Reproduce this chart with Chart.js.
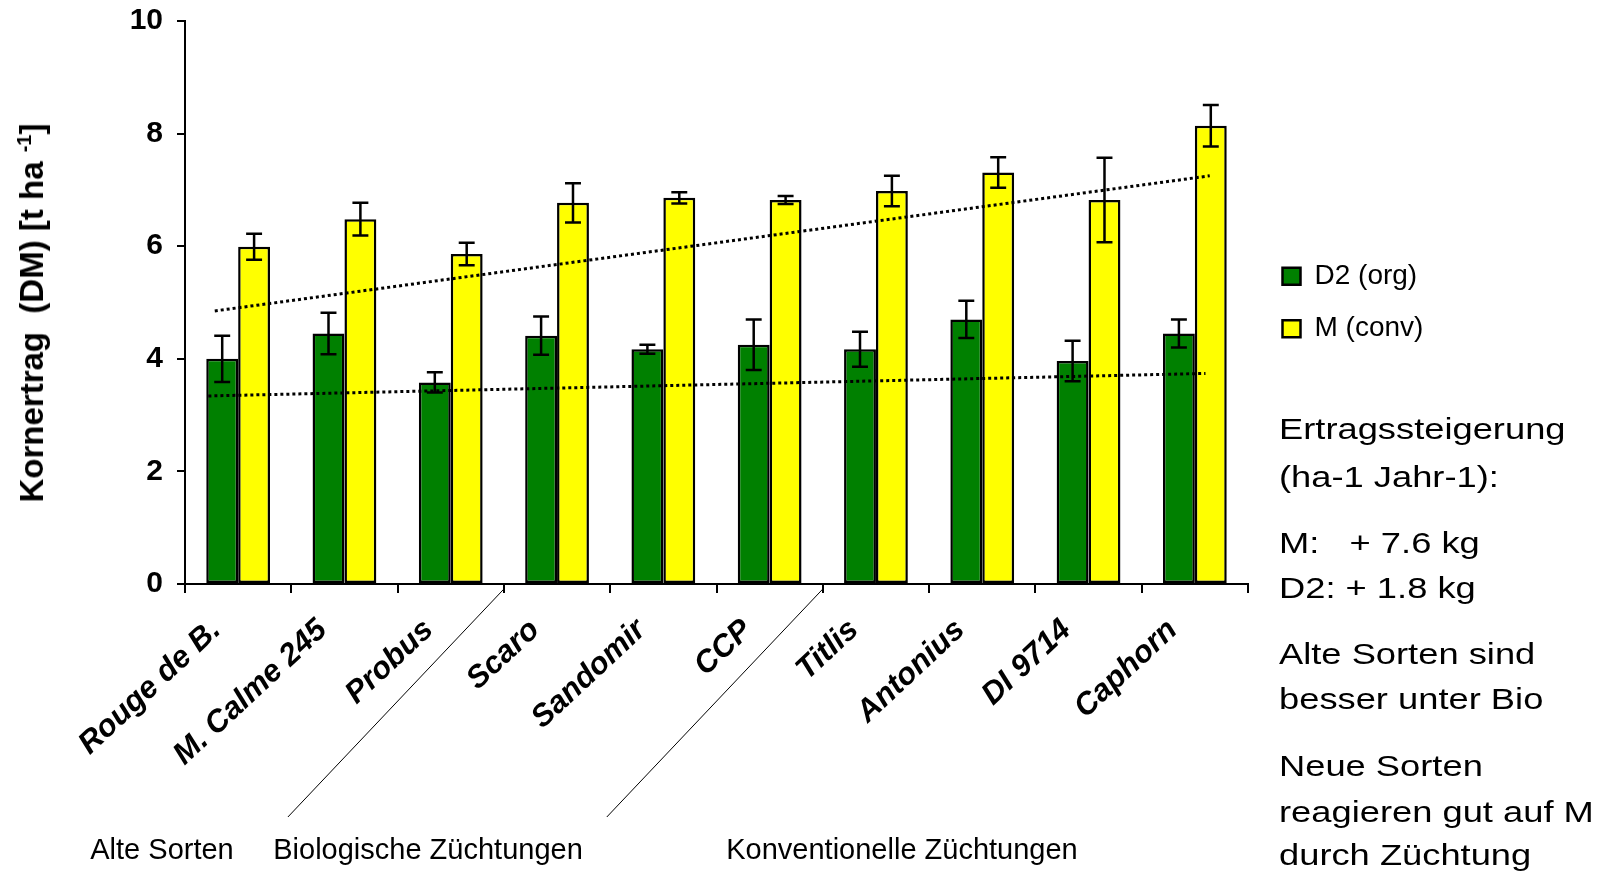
<!DOCTYPE html>
<html>
<head>
<meta charset="utf-8">
<script src="https://cdn.jsdelivr.net/npm/chart.js@4.4.1/dist/chart.umd.min.js"></script>
<style>
  html, body { margin: 0; padding: 0; background: #fff; }
  #wrap { position: relative; width: 1615px; height: 873px; overflow: hidden;
          font-family: "Liberation Sans", Arial, sans-serif; color: #000; }
  #chart { position: absolute; left: 0; top: 0; }
  .ytitle { position: absolute; left: 31px; top: 313px; white-space: pre;
            transform: translate(-50%, -50%) rotate(-90deg);
            font-weight: bold; font-size: 33px; line-height: 1; }
  .ytitle sup { font-size: 20px; }
  .group { position: absolute; top: 849px; transform: translate(-50%, -50%);
           font-size: 29px; white-space: nowrap; line-height: 1; }
  .note { position: absolute; left: 1279px; font-size: 30px; line-height: 1;
          white-space: pre; transform-origin: left center;
          transform: translateY(-50%) scaleX(1.21); }
</style>
</head>
<body>
<div id="wrap">
  <canvas id="chart" width="1615" height="873"></canvas>
  <div class="ytitle">Kornertrag  (DM) [t ha <sup>-1</sup>]</div>
  <div class="group" style="left:162px">Alte Sorten</div>
  <div class="group" style="left:428px">Biologische Züchtungen</div>
  <div class="group" style="left:902px">Konventionelle Züchtungen</div>
  <div class="note" style="top:429px">Ertragssteigerung</div>
  <div class="note" style="top:477px">(ha-1 Jahr-1):</div>
  <div class="note" style="top:543px">M:   + 7.6 kg</div>
  <div class="note" style="top:588px">D2: + 1.8 kg</div>
  <div class="note" style="top:654px">Alte Sorten sind</div>
  <div class="note" style="top:699px">besser unter Bio</div>
  <div class="note" style="top:766px">Neue Sorten</div>
  <div class="note" style="top:812px">reagieren gut auf M</div>
  <div class="note" style="top:855px">durch Züchtung</div>
</div>
<script>
// Sorten (x-Achse)
const sorten = ["Rouge de B.", "M. Calme 245", "Probus", "Scaro", "Sandomir",
                "CCP", "Titlis", "Antonius", "DI 9714", "Caphorn"];

// Kornertrag [t/ha] und Fehlerbalken
const d2Werte  = [4.00, 4.45, 3.58, 4.41, 4.17, 4.25, 4.17, 4.70, 3.96, 4.45];
const d2Fehler = [0.41, 0.37, 0.18, 0.34, 0.08, 0.45, 0.31, 0.33, 0.36, 0.25];
const mWerte   = [5.99, 6.48, 5.86, 6.77, 6.86, 6.82, 6.98, 7.31, 6.82, 8.14];
const mFehler  = [0.23, 0.29, 0.20, 0.35, 0.10, 0.07, 0.27, 0.27, 0.75, 0.37];

// Trendlinien (Endpunkte, x als Kategorie-Index)
const mTrendX  = [-0.22, 9.14];
const mTrendY  = [4.85, 7.25];
const d2TrendX = [-0.28, 9.10];
const d2TrendY = [3.34, 3.74];

// Trennlinien zwischen den Gruppen (vor Index)
const gruppenGrenzen = [3, 6];

const yTicks = { min: 0, max: 10, step: 2 };

Chart.defaults.font.family = "'Liberation Sans', Arial, sans-serif";
Chart.defaults.color = "#000";

// Fehlerbalken selbst zeichnen
const errorBars = {
  id: "errorBars",
  afterDatasetsDraw(chart) {
    const ctx = chart.ctx;
    const y = chart.scales.y;
    ctx.save();
    ctx.strokeStyle = "#000";
    ctx.lineWidth = 2.5;
    chart.data.datasets.forEach((ds, di) => {
      if (!ds.errors) return;
      const meta = chart.getDatasetMeta(di);
      meta.data.forEach((bar, i) => {
        const v = ds.data[i], e = ds.errors[i];
        const top = y.getPixelForValue(v + e);
        const bot = y.getPixelForValue(v - e);
        const half = bar.width / 4;
        ctx.beginPath();
        ctx.moveTo(bar.x, top); ctx.lineTo(bar.x, bot);
        ctx.moveTo(bar.x - half, top); ctx.lineTo(bar.x + half, top);
        ctx.moveTo(bar.x - half, bot); ctx.lineTo(bar.x + half, bot);
        ctx.stroke();
      });
    });
    ctx.restore();
  }
};

// schräge Linien unter der Achse
const groupLines = {
  id: "groupLines",
  afterDraw(chart) {
    const x = chart.scales.x;
    const ctx = chart.ctx;
    ctx.save();
    ctx.strokeStyle = "#000";
    ctx.lineWidth = 1;
    gruppenGrenzen.forEach(i => {
      const px = (x.getPixelForValue(i - 1) + x.getPixelForValue(i)) / 2;
      ctx.beginPath();
      ctx.moveTo(px, x.top + 5);
      ctx.lineTo(px - 216, 817);
      ctx.stroke();
    });
    ctx.restore();
  }
};

// Legende: feste Breite, etwas nach rechts
const legendPlace = {
  id: "legendPlace",
  beforeLayout(chart) {
    const lg = chart.legend;
    if (lg && !lg._patched) {
      const fit = lg.fit;
      lg.fit = function () { fit.call(this); this.width = 367; };
      lg._patched = true;
    }
  },
  afterLayout(chart) {
    chart.legend.left += 10;
  }
};

function trendSet(label, xs, ys) {
  return {
    type: "line",
    label: label,
    data: xs.map((x, i) => ({ x: x, y: ys[i] })),
    parsing: false,
    grouped: false,
    borderColor: "#000",
    borderWidth: 3,
    borderDash: [3, 3],
    pointRadius: 0,
    fill: false,
    order: 0
  };
}

new Chart(document.getElementById("chart"), {
  type: "bar",
  data: {
    labels: sorten,
    datasets: [
      {
        label: "D2 (org)",
        data: d2Werte,
        errors: d2Fehler,
        backgroundColor: "#008000",
        borderColor: "#000",
        borderWidth: 2.5,
        borderSkipped: false,
        categoryPercentage: 0.6,
        barPercentage: 1.0,
        order: 1
      },
      {
        label: "M (conv)",
        data: mWerte,
        errors: mFehler,
        backgroundColor: "#ffff00",
        borderColor: "#000",
        borderWidth: 2.5,
        borderSkipped: false,
        categoryPercentage: 0.6,
        barPercentage: 1.0,
        order: 1
      },
      trendSet("Trend M", mTrendX, mTrendY),
      trendSet("Trend D2", d2TrendX, d2TrendY)
    ]
  },
  options: {
    responsive: false,
    animation: false,
    devicePixelRatio: 1,
    layout: { padding: { top: 21, right: 0, bottom: 0, left: 0 } },
    plugins: {
      tooltip: { enabled: false },
      legend: {
        position: "right",
        align: "center",
        fullSize: false,
        labels: {
          boxWidth: 18,
          boxHeight: 17,
          padding: 24.5,
          font: { size: 28 },
          color: "#000",
          filter: item => item.datasetIndex < 2
        }
      }
    },
    scales: {
      x: {
        type: "category",
        offset: true,
        grid: { offset: true, drawOnChartArea: false, tickLength: 9, color: "#000", lineWidth: 2 },
        border: { color: "#000", width: 2 },
        ticks: {
          autoSkip: false,
          minRotation: 43,
          maxRotation: 43,
          padding: 19,
          labelOffset: -22,
          color: "#000",
          font: { size: 31, weight: "bold", style: "italic" }
        },
        afterFit(s) { s.height = 289; }
      },
      y: {
        min: yTicks.min,
        max: yTicks.max,
        ticks: { stepSize: yTicks.step, padding: 14, color: "#000", font: { size: 30, weight: "bold" } },
        grid: { drawOnChartArea: false, tickLength: 8, color: "#000", lineWidth: 2 },
        border: { color: "#000", width: 2 },
        afterFit(s) { s.width = 185; s.paddingTop = 0; s.paddingBottom = 0; }
      }
    }
  },
  plugins: [errorBars, groupLines, legendPlace]
});
</script>
</body>
</html>
